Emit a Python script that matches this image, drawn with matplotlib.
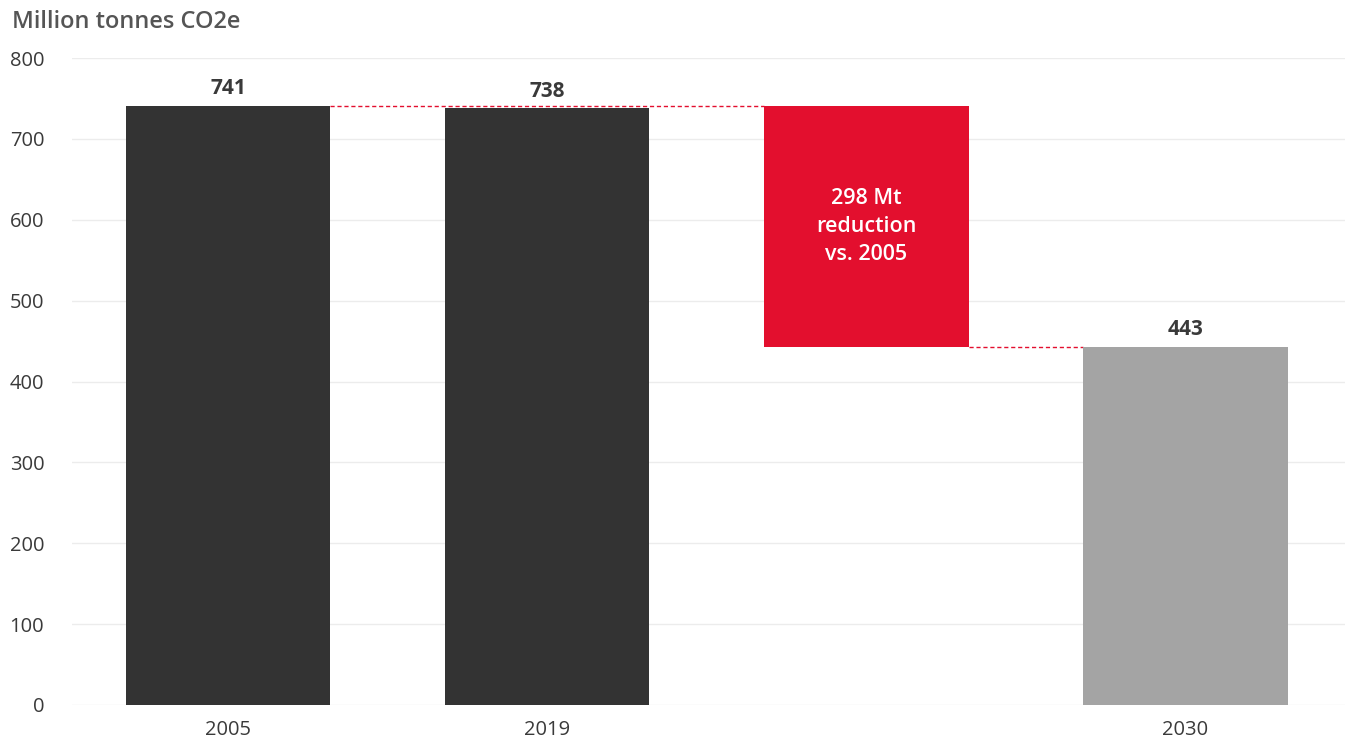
import matplotlib.pyplot as plt

# data
categories = ["2005", "2019", "", "2030"]
totals = [741, 738, None, 443]
reduction = 298
reduction_label = "298 Mt\nreduction\nvs. 2005"
y_ticks = [0, 100, 200, 300, 400, 500, 600, 700, 800]

dark = "#333333"
grey = "#a4a4a4"
red = "#e30f2e"
text_col = "#3a3a3a"

plt.rcParams["font.family"] = ["Open Sans", "DejaVu Sans"]

fig = plt.figure(figsize=(13.54, 7.44), dpi=100)
ax = fig.add_axes([72 / 1354, 39 / 744, 1273 / 1354, 647 / 744])

width = 0.64
xs = list(range(len(categories)))
colors = [dark, dark, None, grey]

for x, v, c in zip(xs, totals, colors):
    if v is None:
        continue
    ax.bar(x, v, width=width, color=c, zorder=3)
    ax.text(x, v + 8, str(v), ha="center", va="bottom", fontsize=15,
            fontweight="bold", color=text_col)

# floating reduction bar
base = totals[3]
ax.bar(2, reduction, bottom=base, width=width, color=red, zorder=3)
ax.text(2, base + reduction / 2, reduction_label, ha="center", va="center",
        fontsize=15.5, fontweight="semibold", color="white", linespacing=1.45, zorder=4)

# dashed connectors
ax.plot([0 + width / 2, 2 - width / 2], [totals[0], totals[0]], color=red,
        lw=1, ls=(0, (3, 2)), zorder=2)
ax.plot([2 + width / 2, 3 - width / 2], [base, base], color=red,
        lw=1, ls=(0, (3, 2)), zorder=2)

ax.set_xlim(-0.49, 3.5)
ax.set_ylim(0, 800)
ax.set_yticks(y_ticks)
ax.set_xticks([0, 1, 3])
ax.set_xticklabels([categories[0], categories[1], categories[3]])
ax.tick_params(axis="both", length=0, labelsize=14.5, colors=text_col)
ax.tick_params(axis="x", pad=11)
ax.tick_params(axis="y", pad=20)
ax.grid(axis="y", color="#ececec", lw=1, zorder=0)
for s in ax.spines.values():
    s.set_visible(False)

fig.text(12 / 1354, 1 - 22 / 744, "Million tonnes CO2e", fontsize=17,
         fontweight="semibold", color="#555555", ha="left", va="center")

fig.savefig("out.png", dpi=100, facecolor="white")
